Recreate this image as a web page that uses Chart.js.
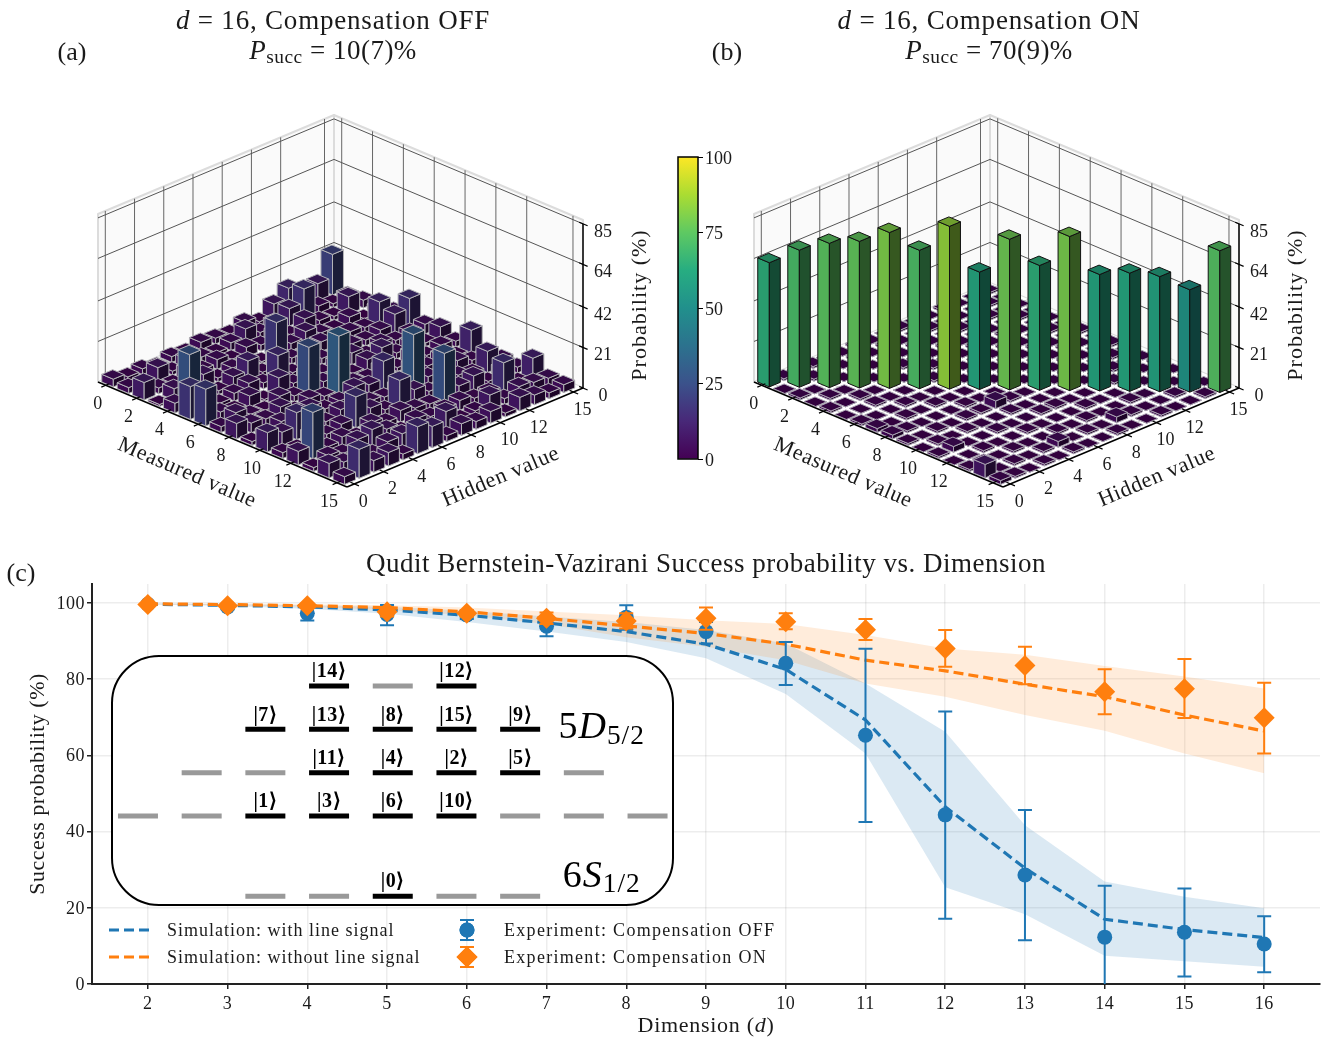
<!DOCTYPE html>
<html>
<head>
<meta charset="utf-8">
<script src="https://cdn.jsdelivr.net/npm/chart.js@4"></script>
<style>
  html, body { margin: 0; padding: 0; background: #fff; }
  #page { position: relative; width: 1327px; height: 1037px; overflow: hidden; }
  canvas { position: absolute; }
  #inset {
    position: absolute; left: 111px; top: 655px; width: 559px; height: 247px;
    border: 2px solid #000; border-radius: 48px; background: #fff; overflow: hidden;
  }
</style>
</head>
<body>
<div id="page">
  <canvas id="chartA" width="660" height="530" style="left:0;top:0"></canvas>
  <canvas id="chartB" width="671" height="530" style="left:656px;top:0"></canvas>
  <canvas id="colorbar" width="90" height="340" style="left:660px;top:140px"></canvas>
  <canvas id="chartC" width="1327" height="507" style="left:0;top:530px"></canvas>
  <div id="inset"><canvas id="levels" width="559" height="247" style="left:0;top:0"></canvas></div>
</div>
<script>
// Panel (c) data
const dimensions = [2, 3, 4, 5, 6, 7, 8, 9, 10, 11, 12, 13, 14, 15, 16];
const yTicks = [0, 20, 40, 60, 80, 100];

const simOff = [99.7, 99.4, 99, 98.2, 96.8, 94.8, 92.5, 89.2, 82.6, 69.3, 46.5, 30.4, 17, 14.3, 12.2];
const simOffHigh = [99.9, 99.7, 99.4, 99, 98, 96.5, 95, 92.9, 89.4, 78.9, 66.2, 41.7, 26.9, 22.9, 19.9];
const simOffLow = [99.6, 99.2, 98.5, 97.2, 95, 92.5, 89.8, 85.5, 76.1, 60.5, 25.4, 18.3, 7.4, 6, 4.5];

const simOn = [99.8, 99.6, 99.3, 98.8, 97.7, 96, 94, 92, 89.2, 85, 82.2, 78.7, 75.4, 70.6, 66.4];
const simOnHigh = [99.9, 99.8, 99.7, 99.4, 98.8, 97.8, 96.8, 95.5, 94.5, 91.6, 88.1, 86.4, 83.5, 80.7, 77.6];
const simOnLow = [99.7, 99.4, 99, 98.2, 96.8, 94.5, 91, 88.5, 85, 78.9, 75.4, 70.6, 66.5, 60.5, 55.3];

const expOff = [99.7, 99, 97.3, 97, 96.9, 93.9, 96.3, 92.5, 84.2, 65.3, 44.4, 28.6, 12.3, 13.6, 10.5];
const expOffHigh = [99.9, 99.6, 99, 99.5, 98, 96, 99.4, 95, 89.8, 88, 71.5, 45.7, 25.8, 25.1, 17.8];
const expOffLow = [99.5, 98.4, 95.4, 94.2, 95.8, 91.3, 93, 89.4, 78.5, 42.5, 17.1, 11.5, -2, 2, 3.1];

const expOn = [99.65, 99.3, 99.3, 97.7, 97.3, 96, 95.3, 96, 95.1, 93, 88.1, 83.6, 76.7, 77.5, 69.9];
const expOnHigh = [99.9, 99.7, 99.8, 98.9, 98.2, 97.5, 97.3, 98.8, 97.3, 95.8, 92.9, 88.5, 82.6, 85.3, 79.1];
const expOnLow = [99.4, 98.9, 98.8, 96.5, 96.4, 94.5, 93.3, 93, 93.1, 90.3, 83.3, 78.7, 70.8, 69.8, 60.5];

// Panels (a) and (b): one row per measured value, one column per hidden value
const probsOff = [
  [4, 2, 3, 1, 3, 2, 4, 3, 2, 5, 2, 8, 13, 3, 9, 21],
  [3, 1, 7, 2, 5, 3, 2, 4, 8, 3, 5, 9, 16, 4, 2, 3],
  [9, 3, 2, 6, 3, 5, 2, 5, 3, 6, 2, 7, 3, 2, 9, 4],
  [1, 6, 3, 7, 2, 4, 3, 1, 18, 4, 7, 3, 2, 5, 1, 3],
  [5, 27, 4, 2, 6, 11, 2, 7, 3, 2, 5, 1, 4, 3, 13, 5],
  [17, 3, 2, 4, 6, 3, 14, 2, 5, 3, 1, 4, 3, 5, 10, 15],
  [19, 4, 2, 6, 1, 9, 3, 5, 2, 4, 6, 2, 5, 3, 4, 5],
  [3, 7, 3, 2, 6, 3, 25, 4, 3, 2, 6, 9, 3, 5, 2, 7],
  [8, 5, 4, 7, 2, 5, 3, 31, 4, 3, 5, 2, 6, 2, 4, 3],
  [2, 3, 6, 2, 7, 3, 4, 8, 6, 15, 2, 6, 3, 5, 2, 12],
  [10, 7, 14, 5, 3, 6, 2, 4, 3, 5, 29, 4, 2, 6, 3, 2],
  [3, 2, 6, 3, 5, 16, 7, 3, 15, 7, 3, 2, 5, 3, 11, 4],
  [7, 24, 3, 5, 2, 6, 3, 6, 4, 3, 26, 6, 8, 2, 5, 3],
  [2, 5, 3, 7, 9, 6, 2, 5, 3, 4, 5, 3, 3, 15, 2, 11],
  [7.5, 5, 4, 3, 6, 7, 2, 3, 9, 2, 3, 8, 3, 6, 5, 4],
  [4, 15, 6, 7, 3, 14, 11, 3, 6, 4, 6, 2, 7, 5, 3, 4],
];
const probsOn = [
  [64.3, 1, 0, 1, 0, 0, 1, 0, 0, 1, 0, 0, 1, 0, 0, 1],
  [0, 71, 1, 0, 0, 1, 0, 1, 0, 0, 1, 0, 0, 0, 1, 0],
  [1, 0, 74.7, 0, 1, 0, 0, 0, 1, 0, 0, 1, 0, 1, 0, 0],
  [0, 1, 0, 75.9, 0, 0, 1, 0, 0, 1, 0, 0, 0, 0, 1, 0],
  [1, 0, 1, 0, 80.7, 0, 0, 1, 0, 0, 1, 0, 1, 0, 0, 0],
  [0, 0, 1, 0, 0, 71.7, 1, 0, 0, 0, 0, 1, 0, 0, 1, 0],
  [1, 0, 0, 1, 0, 0, 84.3, 0, 1, 0, 0, 0, 1, 0, 0, 1],
  [2, 0, 1, 0, 1, 0, 0, 60.8, 0, 1, 0, 0, 0, 1, 0, 0],
  [2, 1, 0, 0, 0, 1, 0, 0, 78, 0, 1, 0, 1, 0, 0, 1],
  [1, 0, 1, 0, 1, 1, 4, 1, 0, 64.6, 0, 1, 0, 0, 1, 0],
  [0, 1, 0, 1, 0, 0, 1, 0, 0, 0, 79.8, 0, 0, 1, 0, 0],
  [1, 3, 0, 0, 1, 0, 0, 1, 1, 0, 0, 60.3, 1, 0, 0, 1],
  [0, 0, 1, 0, 0, 1, 0, 0, 0, 1, 0, 0, 61.2, 0, 1, 0],
  [1, 1, 0, 1, 0, 0, 1, 0, 1, 0, 0, 1, 0, 59.6, 0, 0],
  [7, 0, 1, 0, 1, 3, 0, 1, 0, 3, 1, 0, 0, 1, 53, 0],
  [2, 1, 0, 1, 0, 1, 0, 0, 1, 0, 0, 1, 0, 0, 1, 73.4],
];
const measuredTicks = [0, 2, 4, 6, 8, 10, 12, 15];
const hiddenTicks = [0, 2, 4, 6, 8, 10, 12, 15];
const probabilityTicks = [0, 21, 42, 64, 85];
const colorbarTicks = [0, 25, 50, 75, 100];

// Inset level diagram
const levelCols = [3, 4, 5, 2, 3, 4, 5, 6, 1, 2, 3, 4, 5, 6, 7, 0, 1, 2, 3, 4, 5, 6, 7, 8, 2, 3, 4, 5, 6];
const levelRows = [3, 3, 3, 2, 2, 2, 2, 2, 1, 1, 1, 1, 1, 1, 1, 0, 0, 0, 0, 0, 0, 0, 0, 0, -1.85, -1.85, -1.85, -1.85, -1.85];
const levelStates = [14, null, 12, 7, 13, 8, 15, 9, null, null, 11, 4, 2, 5, null, null, null, 1, 3, 6, 10, null, null, null, null, null, 0, null, null];

const serif = "'Liberation Serif', serif";
Chart.defaults.font.family = serif;
Chart.defaults.font.size = 18;
Chart.defaults.color = "#1a1a1a";
Chart.defaults.animation = false;
Chart.defaults.plugins.legend.display = false;
Chart.defaults.plugins.tooltip.enabled = false;

const BLUE = "#1f77b4";
const ORANGE = "#ff7f0e";
const viridisStops = ["#440154", "#482878", "#3b528b", "#2c728e", "#21908c", "#27ad81", "#5ec962", "#aadc32", "#fde725"];

function hexRgb(hex) {
  return [1, 3, 5].map((i) => parseInt(hex.slice(i, i + 2), 16));
}

function viridis(t) {
  const pos = Math.min(Math.max(t, 0), 1) * (viridisStops.length - 1);
  const i = Math.min(Math.floor(pos), viridisStops.length - 2);
  const a = hexRgb(viridisStops[i]);
  const b = hexRgb(viridisStops[i + 1]);
  return a.map((v, k) => v + (b[k] - v) * (pos - i));
}

function shade(rgb, f) {
  return `rgb(${rgb.map((v) => Math.round(v * f)).join(",")})`;
}

// Text made of runs, for the bits with italics and subscripts
function drawRuns(ctx, runs, cx, cy, size, spacing = 0) {
  const fontOf = (r) => `${r.italic ? "italic " : ""}${r.sub ? size * 0.72 : size}px ${serif}`;
  ctx.save();
  ctx.letterSpacing = spacing + "px";
  ctx.textBaseline = "middle";
  ctx.textAlign = "left";
  let total = 0;
  runs.forEach((r) => {
    ctx.font = fontOf(r);
    total += ctx.measureText(r.t).width;
  });
  let x = cx - total / 2;
  runs.forEach((r) => {
    ctx.font = fontOf(r);
    ctx.fillText(r.t, x, cy + (r.sub ? size * 0.22 : 0));
    x += ctx.measureText(r.t).width;
  });
  ctx.restore();
}

function label(ctx, text, x, y, size, rotation = 0, spacing = 0) {
  ctx.save();
  ctx.translate(x, y);
  ctx.rotate(rotation);
  ctx.letterSpacing = spacing + "px";
  ctx.font = `${size}px ${serif}`;
  ctx.textAlign = "center";
  ctx.textBaseline = "middle";
  ctx.fillText(text, 0, 0);
  ctx.restore();
}

// Oblique view of the measured/hidden/probability box, in canvas pixels
const view = { ox: 98, oy: 382, mx: 249, my: 105, hx: 236, hy: -99, zy: -168 };

function project(chart, m, h, v) {
  const { x, y, z } = chart.scales;
  const fm = (x.getPixelForValue(m) - x.left) / x.width;
  const fh = (y.bottom - y.getPixelForValue(h)) / y.height;
  const fz = (z.bottom - z.getPixelForValue(v)) / z.height;
  return [view.ox + fm * view.mx + fh * view.hx, view.oy + fm * view.my + fh * view.hy + fz * view.zy];
}

function poly(ctx, pts, fill, stroke, width) {
  ctx.beginPath();
  pts.forEach((p, i) => (i ? ctx.lineTo(p[0], p[1]) : ctx.moveTo(p[0], p[1])));
  ctx.closePath();
  if (fill) {
    ctx.fillStyle = fill;
    ctx.fill();
  }
  if (stroke) {
    ctx.strokeStyle = stroke;
    ctx.lineWidth = width;
    ctx.lineJoin = "round";
    ctx.stroke();
  }
}

function seg(ctx, a, b, color, width) {
  ctx.beginPath();
  ctx.moveTo(a[0], a[1]);
  ctx.lineTo(b[0], b[1]);
  ctx.strokeStyle = color;
  ctx.lineWidth = width;
  ctx.stroke();
}

const box3d = {
  id: "box3d",
  beforeDatasetsDraw(chart) {
    const ctx = chart.ctx;
    const { x, y, z } = chart.scales;
    const P = (m, h, v) => project(chart, m, h, v);
    const m0 = x.min, m1 = x.max, h0 = y.min, h1 = y.max, top = z.max;

    // panes
    poly(ctx, [P(m0, h0, 0), P(m0, h1, 0), P(m0, h1, top), P(m0, h0, top)], "#fafafa", "#dcdcdc", 2);
    poly(ctx, [P(m0, h1, 0), P(m1, h1, 0), P(m1, h1, top), P(m0, h1, top)], "#fafafa", "#dcdcdc", 2);
    poly(ctx, [P(m0, h0, 0), P(m1, h0, 0), P(m1, h1, 0), P(m0, h1, 0)], "#fff", null, 0);

    // grid
    const grid = "#666";
    hiddenTicks.forEach((h) => {
      seg(ctx, P(m0, h, 0), P(m0, h, top), grid, 1);
      seg(ctx, P(m0, h, 0), P(m1, h, 0), "#ccc", 1);
    });
    measuredTicks.forEach((m) => {
      seg(ctx, P(m, h1, 0), P(m, h1, top), grid, 1);
      seg(ctx, P(m, h0, 0), P(m, h1, 0), "#ccc", 1);
    });
    probabilityTicks.slice(1).forEach((v) => {
      seg(ctx, P(m0, h0, v), P(m0, h1, v), "#555", 1);
      seg(ctx, P(m0, h1, v), P(m1, h1, v), "#555", 1);
    });
  },
  afterDatasetsDraw(chart) {
    const ctx = chart.ctx;
    const { x, y } = chart.scales;
    const P = (m, h, v) => project(chart, m, h, v);
    const m0 = x.min, m1 = x.max, h0 = y.min, h1 = y.max;
    const opts = chart.options.plugins.box3d;

    // bars, back to front
    const half = 0.375;
    const bars = chart.data.datasets[0].data.slice().sort((a, b) => a.x - a.y - (b.x - b.y));
    bars.forEach((b) => {
      const col = viridis(b.z / 100);
      const edge = b.z > opts.darkAbove ? "#111" : opts.edge;
      const l = b.x - half, r = b.x + half, n = b.y - half, f = b.y + half;
      poly(ctx, [P(l, n, 0), P(r, n, 0), P(r, n, b.z), P(l, n, b.z)], shade(col, 0.88), edge, 1);
      poly(ctx, [P(r, n, 0), P(r, f, 0), P(r, f, b.z), P(r, n, b.z)], shade(col, 0.42), edge, 1);
      poly(ctx, [P(l, n, b.z), P(r, n, b.z), P(r, f, b.z), P(l, f, b.z)], shade(col, 0.74), edge, 1);
    });

    // axis lines
    ctx.lineCap = "butt";
    seg(ctx, P(m0, h0, 0), P(m1, h0, 0), "#000", 1.5);
    seg(ctx, P(m1, h0, 0), P(m1, h1, 0), "#000", 1.5);
    seg(ctx, P(m1, h1, 0), P(m1, h1, 85), "#000", 1.5);
    ctx.fillStyle = "#1a1a1a";

    measuredTicks.forEach((m) => {
      seg(ctx, P(m, h0 - 0.3, 0), P(m, h0 + 0.25, 0), "#000", 1.2);
      const p = P(m, h0, 0);
      label(ctx, String(m), p[0] - 8, p[1] + 19, 18);
    });
    hiddenTicks.forEach((h) => {
      seg(ctx, P(m1 - 0.25, h, 0), P(m1 + 0.3, h, 0), "#000", 1.2);
      const p = P(m1, h, 0);
      label(ctx, String(h), p[0] + 9, p[1] + 18, 18);
    });
    probabilityTicks.forEach((v) => {
      seg(ctx, P(m1 - 0.25, h1, v), P(m1 + 0.3, h1, v), "#000", 1.2);
      const p = P(m1, h1, v);
      label(ctx, String(v), p[0] + 20, p[1] + 8, 18);
    });

    // axis and panel titles
    label(ctx, "Measured value", 187, 473, 22, 0.405, 0.6);
    label(ctx, "Hidden value", 501, 477, 22, -0.40, 0.6);
    label(ctx, "Probability (%)", 640, 305, 22, -Math.PI / 2, 1);
    drawRuns(ctx, [{ t: "d", italic: true }, { t: " = 16, Compensation " + opts.state }], 333, 21.5, 27, 0.8);
    drawRuns(ctx, [{ t: "P", italic: true }, { t: "succ", sub: true }, { t: " = " + opts.success }], 333, 52, 27, 0.5);
    label(ctx, opts.tag, opts.tagX, 53, 26);
  },
};

function matrixChart(id, probs, options) {
  const points = [];
  probs.forEach((row, m) => row.forEach((p, h) => points.push({ x: m, y: h, z: p })));
  return new Chart(document.getElementById(id), {
    type: "scatter",
    data: { datasets: [{ data: points, pointRadius: 0 }] },
    options: {
      responsive: false,
      events: [],
      layout: { autoPadding: false },
      scales: {
        x: { min: -0.5, max: 15.65, display: false },
        y: { min: -0.5, max: 15.65, display: false },
        z: { type: "linear", axis: "y", min: 0, max: 87, display: false },
      },
      plugins: { box3d: options },
    },
    plugins: [box3d],
  });
}

matrixChart("chartA", probsOff, { state: "OFF", success: "10(7)%", tag: "(a)", tagX: 72, edge: "#b4b4b8", darkAbove: 200 });
matrixChart("chartB", probsOn, { state: "ON", success: "70(9)%", tag: "(b)", tagX: 71, edge: "#aaa3b2", darkAbove: 30 });

// Colorbar
const colorbarOutline = {
  id: "colorbarOutline",
  afterDraw(chart) {
    const a = chart.chartArea;
    chart.ctx.strokeStyle = "#000";
    chart.ctx.lineWidth = 1.5;
    chart.ctx.strokeRect(a.left, a.top, a.right - a.left, a.bottom - a.top);
  },
};
const cbCanvas = document.getElementById("colorbar");
const cbGradient = cbCanvas.getContext("2d").createLinearGradient(0, 319, 0, 17);
viridisStops.forEach((c, i) => cbGradient.addColorStop(i / (viridisStops.length - 1), c));
new Chart(cbCanvas, {
  type: "bar",
  data: {
    labels: [""],
    datasets: [{ data: [100], backgroundColor: cbGradient, barPercentage: 1, categoryPercentage: 1 }],
  },
  options: {
    responsive: false,
    events: [],
    layout: { padding: { left: 18, top: 17, bottom: 21 }, autoPadding: false },
    scales: {
      x: { display: false },
      y: {
        position: "right",
        min: 0,
        max: 100,
        afterBuildTicks: (s) => { s.ticks = colorbarTicks.map((v) => ({ value: v })); },
        afterFit: (s) => { s.width = 52; },
        grid: { drawOnChartArea: false, tickLength: 5, tickColor: "#000" },
        border: { display: false },
        ticks: { padding: 2, labelOffset: 2, font: { size: 18 } },
      },
    },
  },
  plugins: [colorbarOutline],
});

// Panel (c)
const xy = (ys) => ys.map((v, i) => ({ x: dimensions[i], y: v }));

const errorBars = {
  id: "errorBars",
  beforeDatasetDraw(chart, args) {
    const ds = chart.data.datasets[args.index];
    if (!ds.errHigh) return;
    const ctx = chart.ctx;
    const a = chart.chartArea;
    const { x, y } = chart.scales;
    ctx.save();
    ctx.beginPath();
    ctx.rect(a.left, a.top, a.right - a.left, a.bottom - a.top);
    ctx.clip();
    ctx.strokeStyle = ds.backgroundColor;
    ctx.lineWidth = 2;
    dimensions.forEach((d, i) => {
      const px = x.getPixelForValue(d);
      const hi = y.getPixelForValue(ds.errHigh[i]);
      const lo = y.getPixelForValue(ds.errLow[i]);
      ctx.beginPath();
      ctx.moveTo(px, hi);
      ctx.lineTo(px, lo);
      ctx.moveTo(px - 7, hi);
      ctx.lineTo(px + 7, hi);
      ctx.moveTo(px - 7, lo);
      ctx.lineTo(px + 7, lo);
      ctx.stroke();
    });
    ctx.restore();
  },
};

function legendText(ctx, text, x, y, spacing) {
  ctx.letterSpacing = spacing + "px";
  ctx.font = `18px ${serif}`;
  ctx.textBaseline = "middle";
  ctx.fillStyle = "#1a1a1a";
  ctx.fillText(text, x, y + 1);
}

const panelExtras = {
  id: "panelExtras",
  beforeDraw(chart) {
    chart.ctx.letterSpacing = "0.5px";
  },
  afterDraw(chart) {
    const ctx = chart.ctx;
    const byLabel = (t) => chart.data.datasets.find((d) => d.label === t);
    ctx.fillStyle = "#1a1a1a";
    label(ctx, "(c)", 21, 44, 26);
    drawRuns(ctx, [{ t: "Dimension (" }, { t: "d", italic: true }, { t: ")" }], 706, 496, 22, 0.7);

    // legend, built from the datasets
    [["Simulation: with line signal", 400], ["Simulation: without line signal", 427]].forEach(([t, y]) => {
      const d = byLabel(t);
      ctx.save();
      ctx.strokeStyle = d.borderColor;
      ctx.lineWidth = d.borderWidth;
      ctx.setLineDash(d.borderDash);
      ctx.beginPath();
      ctx.moveTo(109, y);
      ctx.lineTo(151, y);
      ctx.stroke();
      ctx.setLineDash([]);
      legendText(ctx, t, 167, y, 1);
      ctx.restore();
    });
    [["Experiment: Compensation OFF", 400], ["Experiment: Compensation ON", 427]].forEach(([t, y]) => {
      const d = byLabel(t);
      ctx.save();
      ctx.strokeStyle = d.backgroundColor;
      ctx.lineWidth = 2;
      ctx.beginPath();
      ctx.moveTo(467, y - 10);
      ctx.lineTo(467, y + 10);
      ctx.moveTo(460, y - 10);
      ctx.lineTo(474, y - 10);
      ctx.moveTo(460, y + 10);
      ctx.lineTo(474, y + 10);
      ctx.stroke();
      ctx.fillStyle = d.backgroundColor;
      Chart.helpers.drawPoint(ctx, { pointStyle: d.pointStyle, radius: d.pointRadius, rotation: 0, borderWidth: 0 }, 467, y);
      ctx.fill();
      legendText(ctx, t, 504, y, 1.3);
      ctx.restore();
    });
  },
};

function marker(labelText, ys, high, low, color, style, radius) {
  return {
    label: labelText, data: xy(ys), errHigh: high, errLow: low,
    showLine: false, backgroundColor: color, borderColor: color, borderWidth: 0,
    pointStyle: style, pointRadius: radius, clip: false,
  };
}
function simLine(labelText, ys, color) {
  return {
    label: labelText, data: xy(ys), showLine: true, borderColor: color, backgroundColor: color,
    borderWidth: 3.2, borderDash: [10, 5], pointRadius: 0, tension: 0,
  };
}
function band(ys, color, fillTarget) {
  return { data: xy(ys), showLine: true, borderWidth: 0, pointRadius: 0, backgroundColor: color, fill: fillTarget };
}

const gridStyle = { color: "rgba(0,0,0,0.07)", lineWidth: 1.5, tickColor: "#222", tickLength: 5 };

new Chart(document.getElementById("chartC"), {
  type: "scatter",
  data: {
    datasets: [
      marker("Experiment: Compensation ON", expOn, expOnHigh, expOnLow, ORANGE, "rectRot", 10.5),
      marker("Experiment: Compensation OFF", expOff, expOffHigh, expOffLow, BLUE, "circle", 7.5),
      simLine("Simulation: without line signal", simOn, ORANGE),
      simLine("Simulation: with line signal", simOff, BLUE),
      band(simOnHigh, "rgba(255,127,14,0.15)", "+1"),
      band(simOnLow, "rgba(255,127,14,0)", false),
      band(simOffHigh, "rgba(31,119,180,0.16)", "+1"),
      band(simOffLow, "rgba(31,119,180,0)", false),
    ],
  },
  options: {
    responsive: false,
    events: [],
    layout: { padding: { right: 7 }, autoPadding: false },
    plugins: {
      title: {
        display: true,
        text: "Qudit Bernstein-Vazirani Success probability vs. Dimension",
        fullSize: false,
        color: "#1a1a1a",
        font: { size: 27, weight: "normal", lineHeight: 1.2 },
        padding: { top: 19, bottom: 2.6 },
      },
    },
    scales: {
      x: {
        type: "linear",
        min: 1.3,
        max: 16.7,
        afterBuildTicks: (s) => { s.ticks = dimensions.map((v) => ({ value: v })); },
        afterFit: (s) => { s.height = 53; },
        grid: gridStyle,
        border: { color: "#222", width: 2 },
        ticks: { maxRotation: 0, autoSkip: false, padding: 4 },
      },
      y: {
        min: 0,
        max: 105,
        afterBuildTicks: (s) => { s.ticks = yTicks.map((v) => ({ value: v })); },
        afterFit: (s) => { s.width = 92; },
        grid: gridStyle,
        border: { color: "#222", width: 2 },
        ticks: { padding: 2, labelOffset: 1 },
        title: { display: true, text: "Success probability (%)", color: "#1a1a1a", font: { size: 22 }, padding: { top: 25, bottom: 0 } },
      },
    },
  },
  plugins: [errorBars, panelExtras],
});

// Inset
const levelLabels = {
  id: "levelLabels",
  afterDatasetsDraw(chart) {
    const ctx = chart.ctx;
    const { x, y } = chart.scales;
    ctx.fillStyle = "#000";
    ctx.textAlign = "center";
    ctx.textBaseline = "middle";
    ctx.letterSpacing = "0.5px";
    ctx.font = `bold 20px ${serif}`;
    levelStates.forEach((s, i) => {
      if (s === null) return;
      ctx.fillText(`|${s}⟩`, x.getPixelForValue(levelCols[i]), y.getPixelForValue(levelRows[i]) - 14);
    });
    drawRuns(ctx, [{ t: "5" }, { t: "D", italic: true }, { t: "5/2", sub: true }], x.getPixelForValue(7.28), y.getPixelForValue(2.03), 38, 1);
    drawRuns(ctx, [{ t: "6" }, { t: "S", italic: true }, { t: "1/2", sub: true }], x.getPixelForValue(7.28), y.getPixelForValue(-1.4), 38, 1);
  },
};
new Chart(document.getElementById("levels"), {
  type: "scatter",
  data: {
    datasets: [{
      data: levelCols.map((c, i) => ({ x: c, y: levelRows[i] })),
      pointStyle: "line",
      pointRadius: 20,
      pointBorderWidth: 5,
      pointBorderColor: levelStates.map((s) => (s === null ? "#999" : "#000")),
      clip: false,
    }],
  },
  options: {
    responsive: false,
    events: [],
    layout: { autoPadding: false },
    scales: {
      x: { min: -0.392, max: 8.384, display: false },
      y: { min: -2.03, max: 3.67, display: false },
    },
  },
  plugins: [levelLabels],
});
</script>
</body>
</html>
